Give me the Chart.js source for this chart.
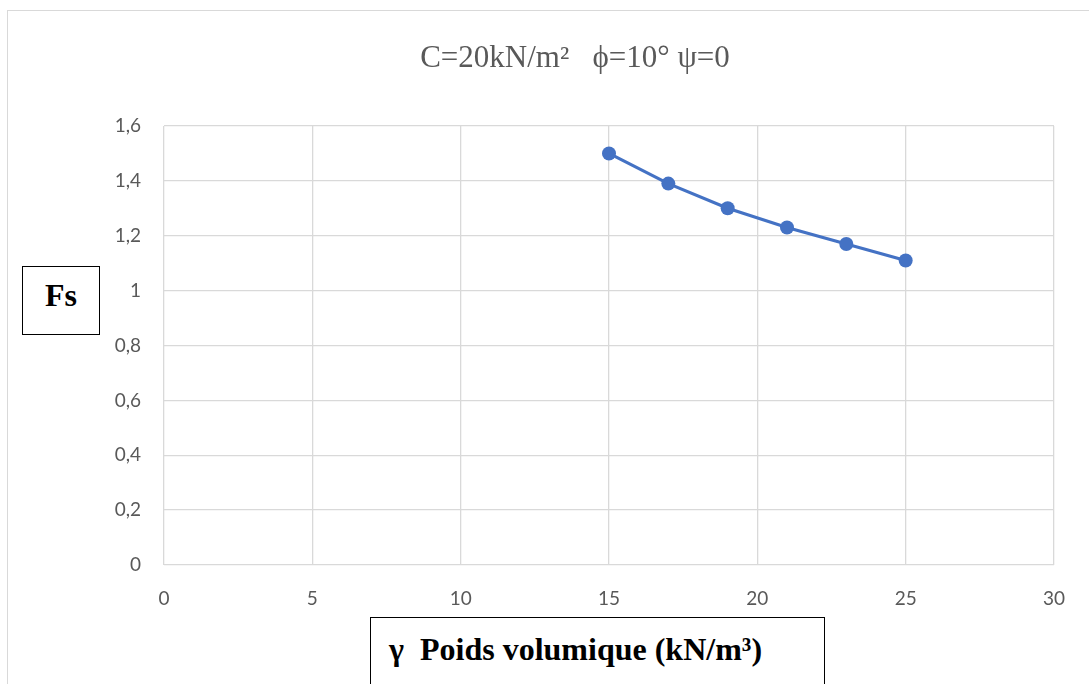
<!DOCTYPE html>
<html>
<head>
<meta charset="utf-8">
<script src="https://cdn.jsdelivr.net/npm/chart.js@4/dist/chart.umd.min.js"></script>
<style>
    html, body { margin: 0; padding: 0; background: #fff; }
    #wrap { position: relative; width: 1089px; height: 684px; overflow: hidden; }
    #cadre { position: absolute; left: 7px; top: 10px; width: 1100px; height: 700px; border: 1px solid #d9d9d9; box-sizing: border-box; }
    canvas { position: absolute; left: 0; top: 0; }
    #titre { position: absolute; left: 0; width: 1150px; top: 39px; text-align: center; font-family: "Liberation Serif", serif; font-size: 31px; color: #595959; white-space: pre; }
    .boite { position: absolute; border: 1.5px solid #000; box-sizing: border-box; background: #fff; font-family: "Liberation Serif", serif; font-weight: bold; color: #000; }
    #boiteFs { left: 22px; top: 266px; width: 78px; height: 69px; font-size: 32px; text-align: center; line-height: 57px; }
    #boiteX { left: 370px; top: 617px; width: 455px; height: 90px; font-size: 32px; padding-left: 18px; padding-top: 13px; }
</style>
</head>
<body>
<div id="wrap">
    <div id="cadre"></div>
    <canvas id="graphe" width="1089" height="684"></canvas>
    <div id="titre">C=20kN/m²   ϕ=10° ψ=0</div>
    <div class="boite" id="boiteFs">Fs</div>
    <div class="boite" id="boiteX">γ&nbsp; Poids volumique (kN/m³)</div>
</div>
<script>
// valeurs
const poidsVolumique = [15, 17, 19, 21, 23, 25];
const facteurSecurite = [1.5, 1.39, 1.3, 1.23, 1.17, 1.11];
const xTicks = [0, 5, 10, 15, 20, 25, 30];
const yTicks = [0, 0.2, 0.4, 0.6, 0.8, 1, 1.2, 1.4, 1.6];

function formatearNumero(v) {
    // 1.4 -> 1,4
    return String(Math.round(v * 10) / 10).replace('.', ',');
}

const points = poidsVolumique.map((x, i) => ({ x: x, y: facteurSecurite[i] }));

const ctx = document.getElementById('graphe').getContext('2d');
new Chart(ctx, {
    type: 'scatter',
    data: {
        datasets: [{
            data: points,
            showLine: true,
            borderColor: '#4472C4',
            backgroundColor: '#4472C4',
            borderWidth: 3.2,
            pointRadius: 7,
            pointBorderWidth: 0,
            tension: 0
        }]
    },
    options: {
        responsive: false,
        animation: false,
        layout: { padding: { top: 126, right: 35, bottom: 79, left: 0 } },
        plugins: { legend: { display: false }, tooltip: { enabled: false } },
        scales: {
            x: {
                type: 'linear',
                min: 0, max: 30,
                afterBuildTicks: (s) => { s.ticks = xTicks.map(v => ({ value: v })); },
                afterFit: (s) => { s.height = 40; },
                grid: { color: '#d9d9d9', lineWidth: 1.3, drawTicks: false },
                border: { display: false },
                ticks: { padding: 22, color: '#595959', font: { family: 'Lato', size: 19 } }
            },
            y: {
                min: 0, max: 1.6,
                afterBuildTicks: (s) => { s.ticks = yTicks.map(v => ({ value: v })); },
                afterFit: (s) => { s.width = 164; },
                grid: { color: '#d9d9d9', lineWidth: 1.3, drawTicks: false },
                border: { display: false },
                ticks: { padding: 23, color: '#595959', font: { family: 'Lato', size: 19 }, callback: (v) => formatearNumero(v) }
            }
        }
    }
});
</script>
</body>
</html>
